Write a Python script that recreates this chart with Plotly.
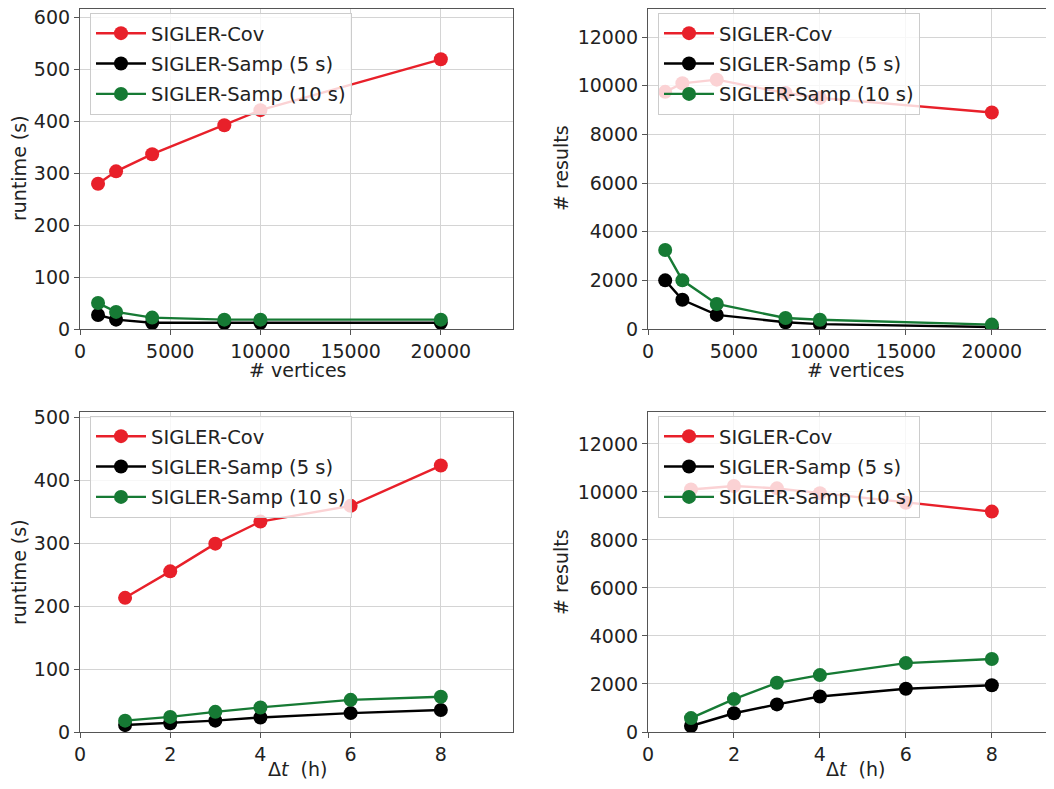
import plotly.graph_objects as go

# ---- data ----
vertices = [1000, 2000, 4000, 8000, 10000, 20000]
rt_v_cov = [280, 304, 337, 393, 422, 520]
rt_v_samp5 = [27, 18, 12, 12, 12, 12]
rt_v_samp10 = [50, 33, 22, 18, 18, 18]

res_v_cov = [9750, 10100, 10250, 9700, 9500, 8900]
res_v_samp5 = [2000, 1200, 580, 280, 200, 80]
res_v_samp10 = [3250, 2000, 1030, 450, 380, 180]

dt = [1, 2, 3, 4, 6, 8]
rt_t_cov = [213, 255, 299, 334, 359, 423]
rt_t_samp5 = [11, 14, 18, 23, 30, 35]
rt_t_samp10 = [18, 24, 32, 39, 51, 56]

res_t_cov = [10100, 10250, 10150, 9950, 9550, 9180]
res_t_samp5 = [250, 780, 1150, 1480, 1800, 1950]
res_t_samp10 = [580, 1370, 2050, 2370, 2870, 3040]

series_names = ["SIGLER-Cov", "SIGLER-Samp (5 s)", "SIGLER-Samp (10 s)"]
vertex_ticks = [0, 5000, 10000, 15000, 20000]
dt_ticks = [0, 2, 4, 6, 8]
runtime_v_ticks = [0, 100, 200, 300, 400, 500, 600]
runtime_t_ticks = [0, 100, 200, 300, 400, 500]
results_ticks = [0, 2000, 4000, 6000, 8000, 10000, 12000]

colors = ["#e8202a", "#000000", "#167a34"]
# page body has an 8px default margin; lay out in screen pixels and shift
OFF = 8
W, H = 1054 - OFF, 789 - 2 * OFF
FONT = "DejaVu Sans"
TXT = "#222222"


def px_x(s):
    return (s - OFF) / W


def px_y(s):
    return 1 - (s - OFF) / H


fig = go.Figure()

panels = [
    # (x, ys, axis id, legend id, screen x extent, screen y extent)
    (vertices, [rt_v_cov, rt_v_samp5, rt_v_samp10], "", "legend", (80, 513), (9, 329)),
    (vertices, [res_v_cov, res_v_samp5, res_v_samp10], "2", "legend2", (648, 1052), (9, 329)),
    (dt, [rt_t_cov, rt_t_samp5, rt_t_samp10], "3", "legend3", (80, 513), (412, 732)),
    (dt, [res_t_cov, res_t_samp5, res_t_samp10], "4", "legend4", (648, 1052), (412, 732)),
]

for x, ys, ax, lg, xp, yp in panels:
    for name, y, c in zip(series_names, ys, colors):
        fig.add_trace(go.Scatter(
            x=x, y=y, name=name, mode="lines+markers",
            line=dict(color=c, width=2.4),
            marker=dict(color=c, size=14),
            xaxis="x" + ax, yaxis="y" + ax, legend=lg,
            legendgroup=lg + name,
        ))

axis_common = dict(
    showline=True, mirror=True, linecolor="#555555", linewidth=1.2,
    showgrid=True, gridcolor="#d4d4d4", gridwidth=1.3,
    ticks="outside", ticklen=5, tickcolor="#555555",
    zeroline=False, automargin=False, ticklabeloverflow="allow",
    tickfont=dict(family=FONT, size=19, color=TXT),
)

specs = [
    # axis id, x range, x ticks, x title, (title screen x, y), y range, y ticks, y title, (title screen x, y)
    ("", (0, 24000), vertex_ticks, "# vertices", (297, 370), (0, 617), runtime_v_ticks, "runtime (s)", (19, 168)),
    ("2", (0, 23500), vertex_ticks, "# vertices", (855, 370), (0, 13155), results_ticks, "# results", (561, 168)),
    ("3", (0, 9.6), dt_ticks, "Δ<i>t</i>\u00a0\u00a0(h)", (297, 769), (0, 508), runtime_t_ticks, "runtime (s)", (19, 572)),
    ("4", (0, 9.4), dt_ticks, "Δ<i>t</i>\u00a0\u00a0(h)", (855, 769), (0, 13330), results_ticks, "# results", (561, 572)),
]

layout = {}
annotations = []
for (ax, xr, xt, xtitle, xtp, yr, yt, ytitle, ytp), (_, _, _, lg, xp, yp) in zip(specs, panels):
    xd = [px_x(xp[0]), px_x(xp[1])]
    yd = [px_y(yp[1]), px_y(yp[0])]
    layout["xaxis" + ax] = dict(axis_common, domain=xd, range=list(xr), tickvals=xt,
                                tickformat="d", anchor="y" + ax)
    layout["yaxis" + ax] = dict(axis_common, domain=yd, range=list(yr), tickvals=yt,
                                tickformat="d", anchor="x" + ax)
    annotations.append(dict(text=xtitle, xref="paper", yref="paper",
                            x=px_x(xtp[0]), y=px_y(xtp[1]), xanchor="center", yanchor="middle",
                            showarrow=False, font=dict(family=FONT, size=19, color=TXT)))
    annotations.append(dict(text=ytitle, xref="paper", yref="paper", textangle=-90,
                            x=px_x(ytp[0]), y=px_y(ytp[1]), xanchor="center", yanchor="middle",
                            showarrow=False, font=dict(family=FONT, size=19, color=TXT)))
    layout[lg] = dict(
        x=px_x(xp[0] + 10), y=px_y(yp[0] + 4), xanchor="left", yanchor="top",
        bgcolor="rgba(255,255,255,0.8)", bordercolor="#cccccc", borderwidth=1,
        font=dict(family=FONT, size=19.5, color=TXT),
        itemwidth=50, tracegroupgap=2,
    )

fig.update_layout(
    width=W, height=H,
    margin=dict(l=0, r=0, t=0, b=0),
    paper_bgcolor="white", plot_bgcolor="white",
    font=dict(family=FONT),
    annotations=annotations,
    **layout,
)

fig.write_html("out.html")
